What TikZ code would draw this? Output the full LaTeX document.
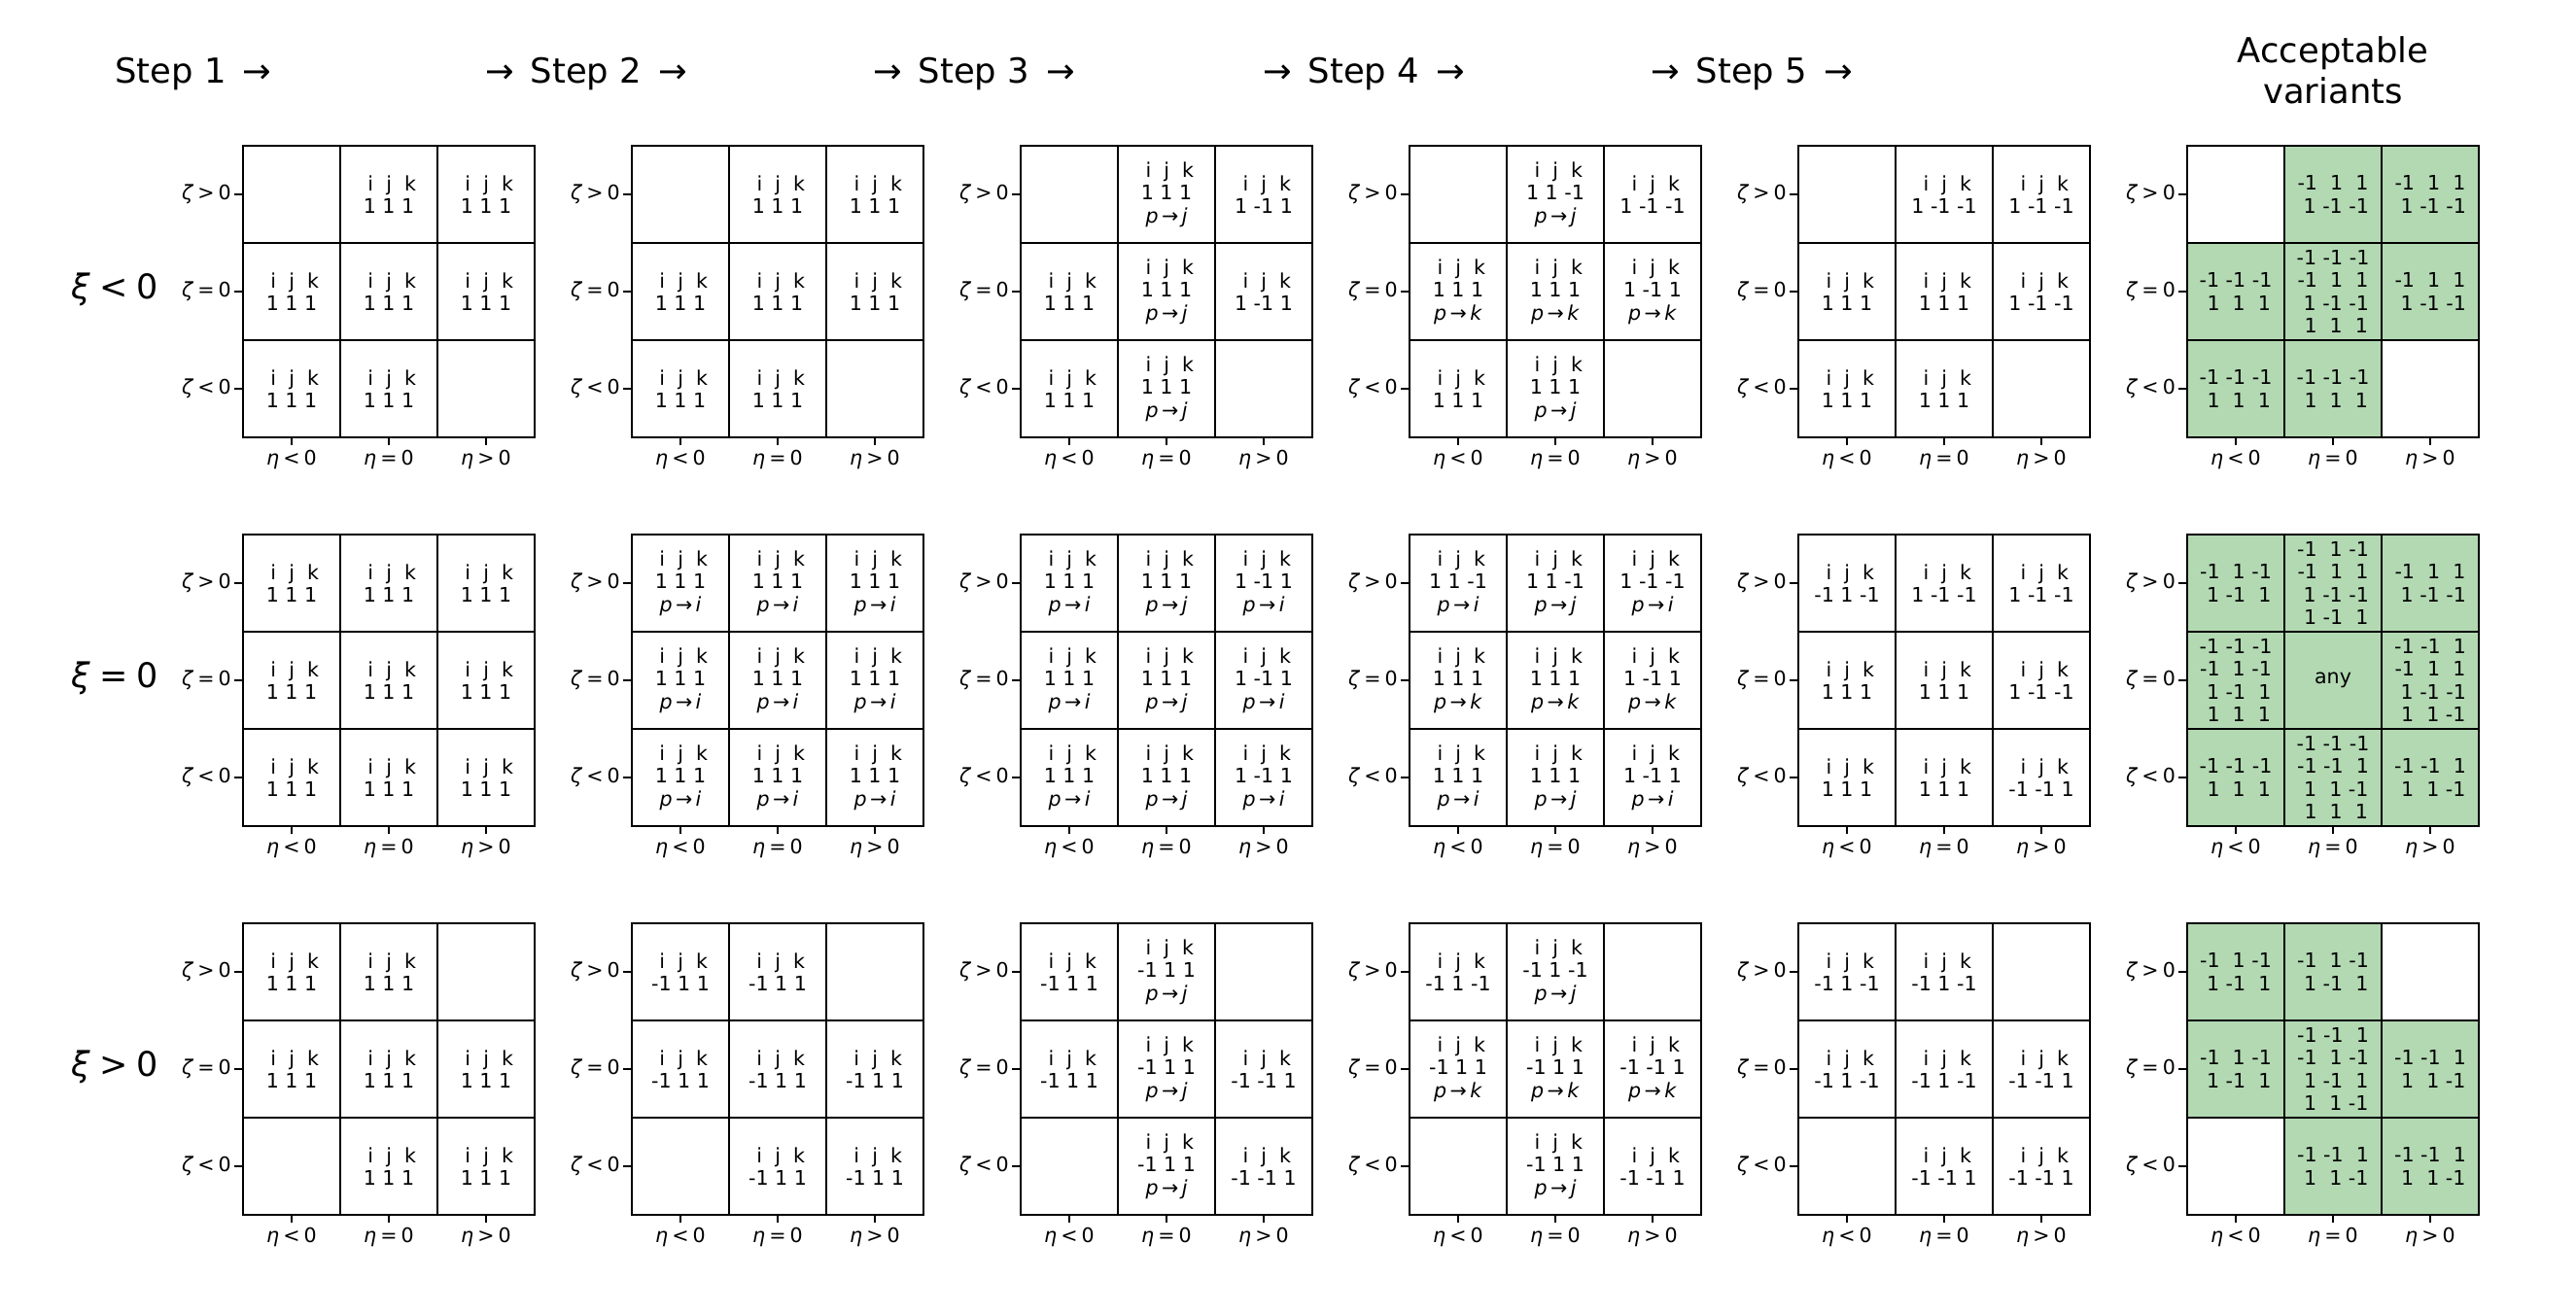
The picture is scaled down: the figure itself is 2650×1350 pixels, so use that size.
\documentclass[tikz,border=0pt]{standalone}
\usepackage{fontspec}
\setmainfont{DejaVu Sans}[ItalicFont={DejaVu Sans Oblique}]
\definecolor{accgreen}{RGB}{179,217,179}
\tikzset{
  cb/.style={draw=black, line width=0.75pt, minimum width=50pt, minimum height=50pt,
    inner sep=0pt, align=center, font=\fontsize{10.3pt}{11.7pt}\selectfont},
  gb/.style={cb, fill=accgreen},
  tickmark/.style={line width=0.75pt},
  ylab/.style={anchor=east, inner sep=0pt, font=\fontsize{10.3pt}{12pt}\selectfont},
  xlab/.style={anchor=north, inner sep=0pt, font=\fontsize{10.3pt}{12pt}\selectfont},
  rowlab/.style={inner sep=0pt, font=\fontsize{17.5pt}{21pt}\selectfont},
  steptitle/.style={anchor=base, inner sep=0pt, font=\fontsize{17.7pt}{21.3pt}\selectfont},
}
\newcommand\ijk{\mbox{\ i\ \ j\ \ k}}
\newcommand\pto[1]{\textit{p}\,→\,\textit{#1}}
\newcommand\qm{-1}
\newcommand\qp{\ 1}
\newcommand\vv[3]{\mbox{#1\ #2\ #3}}
\newcommand\zgt{\textit{ζ}\hspace{0.2em}>\hspace{0.2em}0}
\newcommand\zeq{\textit{ζ}\hspace{0.2em}=\hspace{0.2em}0}
\newcommand\zlt{\textit{ζ}\hspace{0.2em}<\hspace{0.2em}0}
\newcommand\elt{\textit{η}\hspace{0.2em}<\hspace{0.2em}0}
\newcommand\eeq{\textit{η}\hspace{0.2em}=\hspace{0.2em}0}
\newcommand\egt{\textit{η}\hspace{0.2em}>\hspace{0.2em}0}
\newcommand\SetGrid[3]{\def\gx{#1}\def\gy{#2}\def\gn{#3}}
\newcommand\Cl[4]{\node[#3] (\gn-#1#2) at ({\gx+50+100*#2},{\gy+50+100*#1}) {#4};}
\newcommand\Axes{%
  \draw[tickmark] (\gn-00.west) -- ++(-8,0);
  \draw[tickmark] (\gn-10.west) -- ++(-8,0);
  \draw[tickmark] (\gn-20.west) -- ++(-8,0);
  \draw[tickmark] (\gn-20.south) -- ++(0,7);
  \draw[tickmark] (\gn-21.south) -- ++(0,7);
  \draw[tickmark] (\gn-22.south) -- ++(0,7);
  \node[ylab] (\gn-y0) at ([xshift=-5.5pt]\gn-00.west) {\zgt};
  \node[ylab] (\gn-y1) at ([xshift=-5.5pt]\gn-10.west) {\zeq};
  \node[ylab] (\gn-y2) at ([xshift=-5.5pt]\gn-20.west) {\zlt};
  \node[xlab] (\gn-x0) at ([yshift=-6pt]\gn-20.south) {\elt};
  \node[xlab] (\gn-x1) at ([yshift=-6pt]\gn-21.south) {\eeq};
  \node[xlab] (\gn-x2) at ([yshift=-6pt]\gn-22.south) {\egt};
}
\begin{document}
\begin{tikzpicture}[x=0.5pt,y=-0.5pt]
\fill[white] (0,0) rectangle (2650,1350);
\path[use as bounding box] (0,0) rectangle (2650,1350);

% titles
\node[steptitle] (t1) at (199,85) {Step 1\ \,→};
\node[steptitle] (t2) at (603,85) {→\ \,Step 2\ \,→};
\node[steptitle] (t3) at (1002,85) {→\ \,Step 3\ \,→};
\node[steptitle] (t4) at (1403,85) {→\ \,Step 4\ \,→};
\node[steptitle] (t5) at (1802,85) {→\ \,Step 5\ \,→};
\node[steptitle] (t6a) at (2400,64) {Acceptable};
\node[steptitle] (t6b) at (2400,106) {variants};

% row labels
\node[rowlab] (xi0) at (118,298) {\textit{ξ}\hspace{0.25em}<\hspace{0.25em}0};
\node[rowlab] (xi1) at (118,698) {\textit{ξ}\hspace{0.25em}=\hspace{0.25em}0};
\node[rowlab] (xi2) at (118,1098) {\textit{ξ}\hspace{0.25em}>\hspace{0.25em}0};

% ===== row xi<0 =====
\SetGrid{250}{150}{a}
\Cl00{cb}{}
\Cl01{cb}{\ijk\\1 1 1}
\Cl02{cb}{\ijk\\1 1 1}
\Cl10{cb}{\ijk\\1 1 1}
\Cl11{cb}{\ijk\\1 1 1}
\Cl12{cb}{\ijk\\1 1 1}
\Cl20{cb}{\ijk\\1 1 1}
\Cl21{cb}{\ijk\\1 1 1}
\Cl22{cb}{}
\Axes

\SetGrid{650}{150}{b}
\Cl00{cb}{}
\Cl01{cb}{\ijk\\1 1 1}
\Cl02{cb}{\ijk\\1 1 1}
\Cl10{cb}{\ijk\\1 1 1}
\Cl11{cb}{\ijk\\1 1 1}
\Cl12{cb}{\ijk\\1 1 1}
\Cl20{cb}{\ijk\\1 1 1}
\Cl21{cb}{\ijk\\1 1 1}
\Cl22{cb}{}
\Axes

\SetGrid{1050}{150}{c}
\Cl00{cb}{}
\Cl01{cb}{\ijk\\1 1 1\\\pto{j}}
\Cl02{cb}{\ijk\\1 -1 1}
\Cl10{cb}{\ijk\\1 1 1}
\Cl11{cb}{\ijk\\1 1 1\\\pto{j}}
\Cl12{cb}{\ijk\\1 -1 1}
\Cl20{cb}{\ijk\\1 1 1}
\Cl21{cb}{\ijk\\1 1 1\\\pto{j}}
\Cl22{cb}{}
\Axes

\SetGrid{1450}{150}{d}
\Cl00{cb}{}
\Cl01{cb}{\ijk\\1 1 -1\\\pto{j}}
\Cl02{cb}{\ijk\\1 -1 -1}
\Cl10{cb}{\ijk\\1 1 1\\\pto{k}}
\Cl11{cb}{\ijk\\1 1 1\\\pto{k}}
\Cl12{cb}{\ijk\\1 -1 1\\\pto{k}}
\Cl20{cb}{\ijk\\1 1 1}
\Cl21{cb}{\ijk\\1 1 1\\\pto{j}}
\Cl22{cb}{}
\Axes

\SetGrid{1850}{150}{e}
\Cl00{cb}{}
\Cl01{cb}{\ijk\\1 -1 -1}
\Cl02{cb}{\ijk\\1 -1 -1}
\Cl10{cb}{\ijk\\1 1 1}
\Cl11{cb}{\ijk\\1 1 1}
\Cl12{cb}{\ijk\\1 -1 -1}
\Cl20{cb}{\ijk\\1 1 1}
\Cl21{cb}{\ijk\\1 1 1}
\Cl22{cb}{}
\Axes

\SetGrid{2250}{150}{f}
\Cl00{cb}{}
\Cl01{gb}{\vv\qm\qp\qp\\\vv\qp\qm\qm}
\Cl02{gb}{\vv\qm\qp\qp\\\vv\qp\qm\qm}
\Cl10{gb}{\vv\qm\qm\qm\\\vv\qp\qp\qp}
\Cl11{gb}{\vv\qm\qm\qm\\\vv\qm\qp\qp\\\vv\qp\qm\qm\\\vv\qp\qp\qp}
\Cl12{gb}{\vv\qm\qp\qp\\\vv\qp\qm\qm}
\Cl20{gb}{\vv\qm\qm\qm\\\vv\qp\qp\qp}
\Cl21{gb}{\vv\qm\qm\qm\\\vv\qp\qp\qp}
\Cl22{cb}{}
\Axes

% ===== row xi=0 =====
\SetGrid{250}{550}{g}
\Cl00{cb}{\ijk\\1 1 1}
\Cl01{cb}{\ijk\\1 1 1}
\Cl02{cb}{\ijk\\1 1 1}
\Cl10{cb}{\ijk\\1 1 1}
\Cl11{cb}{\ijk\\1 1 1}
\Cl12{cb}{\ijk\\1 1 1}
\Cl20{cb}{\ijk\\1 1 1}
\Cl21{cb}{\ijk\\1 1 1}
\Cl22{cb}{\ijk\\1 1 1}
\Axes

\SetGrid{650}{550}{h}
\Cl00{cb}{\ijk\\1 1 1\\\pto{i}}
\Cl01{cb}{\ijk\\1 1 1\\\pto{i}}
\Cl02{cb}{\ijk\\1 1 1\\\pto{i}}
\Cl10{cb}{\ijk\\1 1 1\\\pto{i}}
\Cl11{cb}{\ijk\\1 1 1\\\pto{i}}
\Cl12{cb}{\ijk\\1 1 1\\\pto{i}}
\Cl20{cb}{\ijk\\1 1 1\\\pto{i}}
\Cl21{cb}{\ijk\\1 1 1\\\pto{i}}
\Cl22{cb}{\ijk\\1 1 1\\\pto{i}}
\Axes

\SetGrid{1050}{550}{i}
\Cl00{cb}{\ijk\\1 1 1\\\pto{i}}
\Cl01{cb}{\ijk\\1 1 1\\\pto{j}}
\Cl02{cb}{\ijk\\1 -1 1\\\pto{i}}
\Cl10{cb}{\ijk\\1 1 1\\\pto{i}}
\Cl11{cb}{\ijk\\1 1 1\\\pto{j}}
\Cl12{cb}{\ijk\\1 -1 1\\\pto{i}}
\Cl20{cb}{\ijk\\1 1 1\\\pto{i}}
\Cl21{cb}{\ijk\\1 1 1\\\pto{j}}
\Cl22{cb}{\ijk\\1 -1 1\\\pto{i}}
\Axes

\SetGrid{1450}{550}{j}
\Cl00{cb}{\ijk\\1 1 -1\\\pto{i}}
\Cl01{cb}{\ijk\\1 1 -1\\\pto{j}}
\Cl02{cb}{\ijk\\1 -1 -1\\\pto{i}}
\Cl10{cb}{\ijk\\1 1 1\\\pto{k}}
\Cl11{cb}{\ijk\\1 1 1\\\pto{k}}
\Cl12{cb}{\ijk\\1 -1 1\\\pto{k}}
\Cl20{cb}{\ijk\\1 1 1\\\pto{i}}
\Cl21{cb}{\ijk\\1 1 1\\\pto{j}}
\Cl22{cb}{\ijk\\1 -1 1\\\pto{i}}
\Axes

\SetGrid{1850}{550}{k}
\Cl00{cb}{\ijk\\-1 1 -1}
\Cl01{cb}{\ijk\\1 -1 -1}
\Cl02{cb}{\ijk\\1 -1 -1}
\Cl10{cb}{\ijk\\1 1 1}
\Cl11{cb}{\ijk\\1 1 1}
\Cl12{cb}{\ijk\\1 -1 -1}
\Cl20{cb}{\ijk\\1 1 1}
\Cl21{cb}{\ijk\\1 1 1}
\Cl22{cb}{\ijk\\-1 -1 1}
\Axes

\SetGrid{2250}{550}{l}
\Cl00{gb}{\vv\qm\qp\qm\\\vv\qp\qm\qp}
\Cl01{gb}{\vv\qm\qp\qm\\\vv\qm\qp\qp\\\vv\qp\qm\qm\\\vv\qp\qm\qp}
\Cl02{gb}{\vv\qm\qp\qp\\\vv\qp\qm\qm}
\Cl10{gb}{\vv\qm\qm\qm\\\vv\qm\qp\qm\\\vv\qp\qm\qp\\\vv\qp\qp\qp}
\Cl11{gb}{any}
\Cl12{gb}{\vv\qm\qm\qp\\\vv\qm\qp\qp\\\vv\qp\qm\qm\\\vv\qp\qp\qm}
\Cl20{gb}{\vv\qm\qm\qm\\\vv\qp\qp\qp}
\Cl21{gb}{\vv\qm\qm\qm\\\vv\qm\qm\qp\\\vv\qp\qp\qm\\\vv\qp\qp\qp}
\Cl22{gb}{\vv\qm\qm\qp\\\vv\qp\qp\qm}
\Axes

% ===== row xi>0 =====
\SetGrid{250}{950}{m}
\Cl00{cb}{\ijk\\1 1 1}
\Cl01{cb}{\ijk\\1 1 1}
\Cl02{cb}{}
\Cl10{cb}{\ijk\\1 1 1}
\Cl11{cb}{\ijk\\1 1 1}
\Cl12{cb}{\ijk\\1 1 1}
\Cl20{cb}{}
\Cl21{cb}{\ijk\\1 1 1}
\Cl22{cb}{\ijk\\1 1 1}
\Axes

\SetGrid{650}{950}{n}
\Cl00{cb}{\ijk\\-1 1 1}
\Cl01{cb}{\ijk\\-1 1 1}
\Cl02{cb}{}
\Cl10{cb}{\ijk\\-1 1 1}
\Cl11{cb}{\ijk\\-1 1 1}
\Cl12{cb}{\ijk\\-1 1 1}
\Cl20{cb}{}
\Cl21{cb}{\ijk\\-1 1 1}
\Cl22{cb}{\ijk\\-1 1 1}
\Axes

\SetGrid{1050}{950}{o}
\Cl00{cb}{\ijk\\-1 1 1}
\Cl01{cb}{\ijk\\-1 1 1\\\pto{j}}
\Cl02{cb}{}
\Cl10{cb}{\ijk\\-1 1 1}
\Cl11{cb}{\ijk\\-1 1 1\\\pto{j}}
\Cl12{cb}{\ijk\\-1 -1 1}
\Cl20{cb}{}
\Cl21{cb}{\ijk\\-1 1 1\\\pto{j}}
\Cl22{cb}{\ijk\\-1 -1 1}
\Axes

\SetGrid{1450}{950}{p}
\Cl00{cb}{\ijk\\-1 1 -1}
\Cl01{cb}{\ijk\\-1 1 -1\\\pto{j}}
\Cl02{cb}{}
\Cl10{cb}{\ijk\\-1 1 1\\\pto{k}}
\Cl11{cb}{\ijk\\-1 1 1\\\pto{k}}
\Cl12{cb}{\ijk\\-1 -1 1\\\pto{k}}
\Cl20{cb}{}
\Cl21{cb}{\ijk\\-1 1 1\\\pto{j}}
\Cl22{cb}{\ijk\\-1 -1 1}
\Axes

\SetGrid{1850}{950}{q}
\Cl00{cb}{\ijk\\-1 1 -1}
\Cl01{cb}{\ijk\\-1 1 -1}
\Cl02{cb}{}
\Cl10{cb}{\ijk\\-1 1 -1}
\Cl11{cb}{\ijk\\-1 1 -1}
\Cl12{cb}{\ijk\\-1 -1 1}
\Cl20{cb}{}
\Cl21{cb}{\ijk\\-1 -1 1}
\Cl22{cb}{\ijk\\-1 -1 1}
\Axes

\SetGrid{2250}{950}{r}
\Cl00{gb}{\vv\qm\qp\qm\\\vv\qp\qm\qp}
\Cl01{gb}{\vv\qm\qp\qm\\\vv\qp\qm\qp}
\Cl02{cb}{}
\Cl10{gb}{\vv\qm\qp\qm\\\vv\qp\qm\qp}
\Cl11{gb}{\vv\qm\qm\qp\\\vv\qm\qp\qm\\\vv\qp\qm\qp\\\vv\qp\qp\qm}
\Cl12{gb}{\vv\qm\qm\qp\\\vv\qp\qp\qm}
\Cl20{cb}{}
\Cl21{gb}{\vv\qm\qm\qp\\\vv\qp\qp\qm}
\Cl22{gb}{\vv\qm\qm\qp\\\vv\qp\qp\qm}
\Axes
\end{tikzpicture}
\end{document}
